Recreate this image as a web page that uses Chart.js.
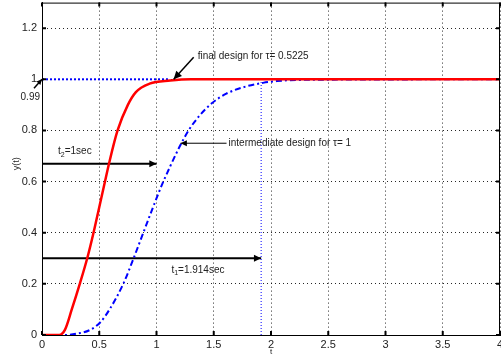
<!DOCTYPE html>
<html>
<head>
<meta charset="utf-8">
<script src="https://cdn.jsdelivr.net/npm/chart.js@4.4.0/dist/chart.umd.min.js"></script>
<style>
  html, body { margin: 0; padding: 0; background: #fff; overflow: hidden; }
  #wrap { width: 510px; height: 365px; margin-top: -9px; }
</style>
</head>
<body>
<div id="wrap"><canvas id="grafico" width="510" height="365"></canvas></div>
<script>
// diseño final (tau = 0.5225)
const tFinal = [0, 0.15, 0.2, 0.26, 0.33, 0.395, 0.45, 0.5, 0.55, 0.585, 0.66, 0.75, 0.82, 0.94, 1.12, 1.3, 4];
const yFinal = [0, 0, 0.02, 0.1, 0.2, 0.3, 0.4, 0.5, 0.6, 0.67, 0.8, 0.9, 0.95, 0.983, 0.995, 1, 1];

// diseño intermedio (tau = 1)
const tInter = [0, 0.2, 0.3, 0.42, 0.51, 0.59, 0.71, 0.8, 0.885, 0.97, 1.05, 1.12, 1.2, 1.28, 1.38, 1.48, 1.61, 1.79, 1.93, 2.05, 2.3, 4];
const yInter = [0, 0, 0.005, 0.02, 0.05, 0.1, 0.2, 0.3, 0.4, 0.5, 0.59, 0.66, 0.735, 0.8, 0.86, 0.905, 0.944, 0.973, 0.986, 0.993, 0.998, 1];

// ejes
const xTicks = [0, 0.5, 1, 1.5, 2, 2.5, 3, 3.5, 4];
const yTicks = [0, 0.2, 0.4, 0.6, 0.8, 1, 1.2];

// anotaciones
const t1 = 1.914;     // tiempo intermedio
const t2 = 1;         // tiempo final
const yFlechaT1 = 0.3;
const yFlechaT2 = 0.67;
const yRef = 1;

function puntos(xs, ys) {
  return xs.map((x, i) => ({ x: x, y: ys[i] }));
}

// flecha con punta rellena
function flecha(ctx, x1, y1, x2, y2, tam) {
  const ang = Math.atan2(y2 - y1, x2 - x1);
  ctx.beginPath();
  ctx.moveTo(x2, y2);
  ctx.lineTo(x2 - tam * Math.cos(ang - 0.45), y2 - tam * Math.sin(ang - 0.45));
  ctx.lineTo(x2 - tam * Math.cos(ang + 0.45), y2 - tam * Math.sin(ang + 0.45));
  ctx.closePath();
  ctx.fill();
}

function textoSub(ctx, base, sub, resto, x, y) {
  ctx.font = "10px 'Liberation Sans', Arial, sans-serif";
  ctx.fillText(base, x, y);
  let w = ctx.measureText(base).width;
  ctx.font = "7px 'Liberation Sans', Arial, sans-serif";
  ctx.fillText(sub, x + w, y + 3);
  w += ctx.measureText(sub).width;
  ctx.font = "10px 'Liberation Sans', Arial, sans-serif";
  ctx.fillText(resto, x + w, y);
}

const anotaciones = {
  id: "anotaciones",
  afterDatasetsDraw(chart) {
    const ctx = chart.ctx;
    const xs = chart.scales.x;
    const ys = chart.scales.y;
    const a = chart.chartArea;
    ctx.save();

    // marco y marcas de ticks (estilo matlab)
    ctx.strokeStyle = "#000";
    ctx.lineWidth = 1;
    ctx.strokeRect(a.left + 0.5, a.top + 0.5, a.right - a.left - 1, a.bottom - a.top);
    ctx.lineWidth = 2;
    ctx.beginPath();
    xTicks.forEach((v) => {
      const px = xs.getPixelForValue(v);
      ctx.moveTo(px, a.bottom); ctx.lineTo(px, a.bottom - 4);
      ctx.moveTo(px, a.top); ctx.lineTo(px, a.top + 4);
    });
    yTicks.forEach((v) => {
      const py = ys.getPixelForValue(v);
      ctx.moveTo(a.left, py); ctx.lineTo(a.left + 4, py);
      ctx.moveTo(a.right, py); ctx.lineTo(a.right - 4, py);
    });
    ctx.stroke();

    ctx.fillStyle = "#000";
    ctx.strokeStyle = "#000";
    ctx.lineWidth = 1.5;

    // puntas de las flechas horizontales
    flecha(ctx, xs.getPixelForValue(0), ys.getPixelForValue(yFlechaT2),
      xs.getPixelForValue(t2), ys.getPixelForValue(yFlechaT2), 8);
    flecha(ctx, xs.getPixelForValue(0), ys.getPixelForValue(yFlechaT1),
      xs.getPixelForValue(t1), ys.getPixelForValue(yFlechaT1), 8);

    // flecha "final design"
    const fx = xs.getPixelForValue(1.15), fy = ys.getPixelForValue(1.0);
    ctx.beginPath();
    ctx.moveTo(fx + 20, fy - 22);
    ctx.lineTo(fx, fy);
    ctx.stroke();
    flecha(ctx, fx + 20, fy - 22, fx, fy, 9);

    // flecha "intermediate design"
    const ix = xs.getPixelForValue(1.21), iy = ys.getPixelForValue(0.75);
    ctx.lineWidth = 1;
    ctx.beginPath();
    ctx.moveTo(ix + 46, iy);
    ctx.lineTo(ix, iy);
    ctx.stroke();
    flecha(ctx, ix + 46, iy, ix, iy, 7);

    // flecha de 0.99
    ctx.lineWidth = 1.5;
    const rx = xs.getPixelForValue(0), ry = ys.getPixelForValue(yRef);
    ctx.beginPath();
    ctx.moveTo(rx - 8, ry + 9);
    ctx.lineTo(rx, ry);
    ctx.stroke();
    flecha(ctx, rx - 8, ry + 9, rx, ry, 6);

    // textos
    ctx.fillStyle = "#222";
    ctx.textBaseline = "middle";
    ctx.textAlign = "left";
    ctx.font = "10px 'Liberation Sans', Arial, sans-serif";
    ctx.fillText("final design for \u03c4= 0.5225", fx + 24, fy - 23);
    ctx.fillText("intermediate design for \u03c4= 1", ix + 48, iy);
    textoSub(ctx, "t", "2", "=1sec", xs.getPixelForValue(0.14), ys.getPixelForValue(yFlechaT2) - 12);
    textoSub(ctx, "t", "1", "=1.914sec", xs.getPixelForValue(1.13), ys.getPixelForValue(yFlechaT1) + 12);

    ctx.font = "10px 'Liberation Sans', Arial, sans-serif";
    ctx.textAlign = "right";
    ctx.fillText("0.99", a.left - 2, ys.getPixelForValue(yRef) + 18);

    // etiquetas de ejes
    ctx.textAlign = "center";
    ctx.font = "8px 'Liberation Sans', Arial, sans-serif";
    ctx.fillText("t", xs.getPixelForValue(2), a.bottom + 17);
    ctx.font = "9px 'Liberation Sans', Arial, sans-serif";
    ctx.save();
    ctx.translate(17, ys.getPixelForValue(0.67));
    ctx.rotate(-Math.PI / 2);
    ctx.fillText("y(t)", 0, 0);
    ctx.restore();

    ctx.restore();
  },
};

const ctx = document.getElementById("grafico").getContext("2d");
const grafico = new Chart(ctx, {
  type: "line",
  data: {
    datasets: [
      {
        data: puntos(tFinal, yFinal),
        borderColor: "#ff0000",
        borderWidth: 2.5,
        pointRadius: 0,
        fill: false,
        cubicInterpolationMode: "monotone",
      },
      {
        data: puntos(tInter, yInter),
        borderColor: "#0000ff",
        borderWidth: 2,
        borderDash: [6, 3, 2, 3],
        pointRadius: 0,
        fill: false,
        cubicInterpolationMode: "monotone",
      },
      {
        // referencia horizontal punteada en 1
        data: puntos([0, 1.1], [yRef, yRef]),
        borderColor: "#0000ff",
        borderWidth: 2,
        borderDash: [2, 2],
        pointRadius: 0,
      },
      {
        // linea vertical en t1
        data: puntos([t1, t1], [0, 0.99]),
        borderColor: "#0000ff",
        borderWidth: 1,
        borderDash: [1, 2],
        pointRadius: 0,
      },
      {
        data: puntos([0, t2], [yFlechaT2, yFlechaT2]),
        borderColor: "#000",
        borderWidth: 2,
        pointRadius: 0,
      },
      {
        data: puntos([0, t1], [yFlechaT1, yFlechaT1]),
        borderColor: "#000",
        borderWidth: 2,
        pointRadius: 0,
      },
    ],
  },
  options: {
    responsive: false,
    animation: false,
    layout: { padding: { top: 3, right: 10, left: 0, bottom: 0 } },
    scales: {
      x: {
        type: "linear",
        min: 0,
        max: 4,
        afterBuildTicks: (axis) => { axis.ticks = xTicks.map((v) => ({ value: v })); },
        afterFit: (axis) => { axis.height = 21; },
        ticks: {
          padding: 3,
          maxRotation: 0,
          color: "#222",
          font: { family: "'Liberation Sans', Arial, sans-serif", size: 11 },
          callback: (v) => String(v),
        },
        grid: { color: "rgba(0,0,0,0.85)", lineWidth: 1, drawTicks: false },
        border: { display: true, color: "#000", width: 1, dash: [1, 3] },
      },
      y: {
        type: "linear",
        min: 0,
        max: 1.3,
        afterBuildTicks: (axis) => { axis.ticks = yTicks.map((v) => ({ value: v })); },
        afterFit: (axis) => { axis.width = 42; },
        ticks: {
          padding: 5,
          color: "#222",
          font: { family: "'Liberation Sans', Arial, sans-serif", size: 11 },
          callback: (v) => String(v),
        },
        grid: { color: "rgba(0,0,0,0.85)", lineWidth: 1, drawTicks: false },
        border: { display: true, color: "#000", width: 1, dash: [1, 3] },
      },
    },
    plugins: {
      legend: { display: false },
      tooltip: { enabled: false },
    },
  },
  plugins: [anotaciones],
});
</script>
</body>
</html>
